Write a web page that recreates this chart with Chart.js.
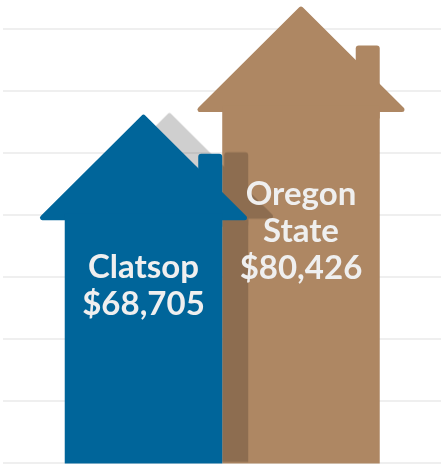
<!DOCTYPE html>
<html>
<head>
<meta charset="utf-8">
<style>
	html, body { margin: 0; padding: 0; background: #fff; }
	#wrap { width: 441px; height: 465px; position: relative; }
</style>
</head>
<body>
<div id="wrap"><canvas id="houses"></canvas></div>
<script src="https://cdn.jsdelivr.net/npm/chart.js"></script>
<script>
	const labels = ["Clatsop", "Oregon State"];
	const income = [68705, 80426];
	const colors = ["#00659a", "#ae8763"];

	const ROOF = 103; // roof rise, same as its overhang half-width
	const CHIMNEY_W = 24;

	// one house outline: roof, body and chimney, filled in a single colour
	function drawHouse(ctx, cx, top, w, base, color) {
		const half = w / 2;
		ctx.save();
		ctx.fillStyle = color;
		ctx.strokeStyle = color;

		// chimney, flush with the right wall
		ctx.beginPath();
		ctx.roundRect(cx + half - CHIMNEY_W, top + 39, CHIMNEY_W, ROOF - 30, [3, 3, 0, 0]);
		ctx.fill();

		// roof triangle with soft corners
		ctx.lineJoin = "round";
		ctx.lineWidth = 5;
		ctx.beginPath();
		ctx.moveTo(cx, top + 2.5);
		ctx.lineTo(cx - ROOF + 2, top + ROOF);
		ctx.lineTo(cx + ROOF - 2, top + ROOF);
		ctx.closePath();
		ctx.fill();
		ctx.stroke();

		// walls
		ctx.fillRect(cx - half, top + ROOF - 4, w, base - top - ROOF + 4);
		ctx.restore();
	}

	const housePlugin = {
		id: "housePlugin",
		afterDatasetsDraw(chart) {
			const ctx = chart.ctx;
			const bars = chart.getDatasetMeta(0).data;
			const base = chart.chartArea.bottom + 1;

			// back house first
			const back = bars[1];
			drawHouse(ctx, back.x, back.y, back.width, base, colors[1]);

			// shadow of the front house falling to the right
			const front = bars[0];
			const off = document.createElement("canvas");
			off.width = chart.width;
			off.height = chart.height;
			drawHouse(off.getContext("2d"), front.x, front.y, front.width, base, "#000");
			ctx.save();
			ctx.globalAlpha = 0.19;
			ctx.drawImage(off, 26, -1.5);
			ctx.restore();

			drawHouse(ctx, front.x, front.y, front.width, base, colors[0]);

			// name and value written inside each house
			ctx.save();
			ctx.fillStyle = "#efefef";
			ctx.font = "700 33px Lato";
			ctx.textAlign = "center";
			ctx.textBaseline = "alphabetic";
			const lineH = 37;
			bars.forEach((bar, i) => {
				const lines = labels[i].split(" ");
				lines.push("$" + income[i].toLocaleString("en-US"));
				const mid = (bar.y + base) / 2 - 5;
				const first = mid - (lines.length - 1) * lineH / 2;
				lines.forEach((t, j) => {
					ctx.fillText(t, bar.x, first + j * lineH + 12);
				});
			});
			ctx.restore();
		},
	};

	new Chart(document.getElementById("houses"), {
		type: "bar",
		data: {
			datasets: [
				{
					data: income.map((v, i) => ({ x: i + 1, y: v })),
					backgroundColor: "rgba(0,0,0,0)",
					barPercentage: 1,
					categoryPercentage: 1,
				},
			],
		},
		options: {
			responsive: true,
			maintainAspectRatio: false,
			animation: false,
			layout: { padding: { left: 3, right: 0, top: 29, bottom: 2.5 } },
			plugins: {
				legend: { display: false },
				tooltip: { enabled: false },
			},
			scales: {
				x: {
					type: "linear",
					display: false,
					offset: false,
					min: 0.108,
					max: 2.889,
					// only one tick per house, so the bars fill the whole slot
					afterBuildTicks: (scale) => {
						scale.ticks = income.map((v, i) => ({ value: i + 1 }));
					},
				},
				y: {
					min: 31000,
					max: 78000,
					border: { display: false },
					ticks: { display: false, count: 8 },
					grid: { color: "#efefef", lineWidth: 2, drawTicks: false },
				},
			},
		},
		plugins: [housePlugin],
	});
</script>
</body>
</html>
